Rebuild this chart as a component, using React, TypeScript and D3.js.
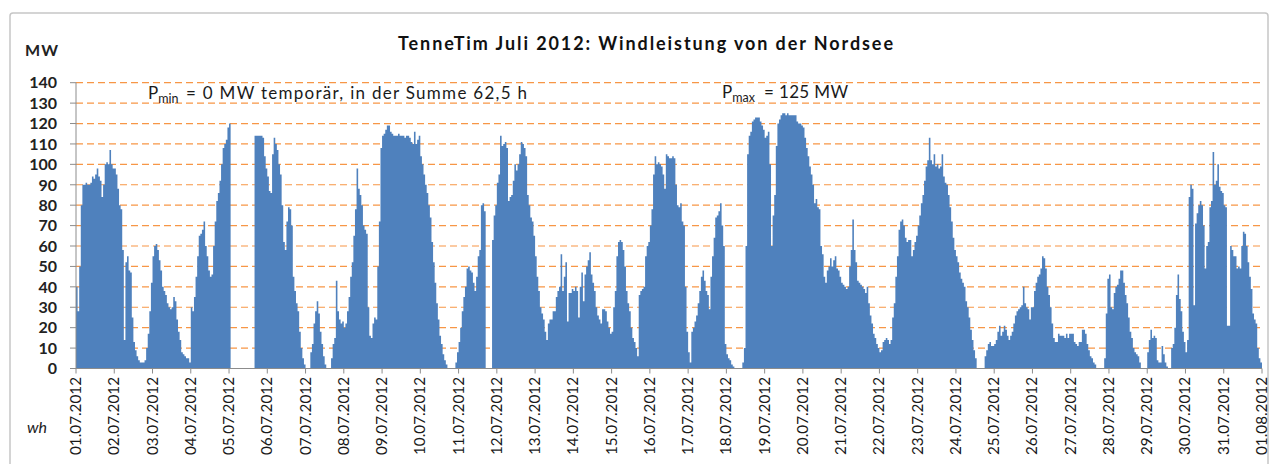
import React from 'react';
import * as d3 from 'd3';

// hourly wind power (MW), one row per day, 01.07.2012 ... 31.07.2012
const hourlyMW: number[][] = [
  [40, 28, 50, 80, 90, 90, 91, 90, 90, 91, 94, 93, 95, 98, 94, 92, 84, 90, 100, 101, 100, 107, 100, 98], // 01.07
  [98, 95, 88, 80, 78, 58, 14, 52, 55, 48, 47, 25, 13, 9, 6, 4, 3, 3, 3, 4, 10, 17, 28, 42], // 02.07
  [55, 60, 61, 58, 53, 48, 40, 38, 36, 32, 30, 29, 30, 35, 33, 24, 18, 14, 8, 7, 6, 5, 5, 3], // 03.07
  [30, 28, 35, 45, 55, 65, 66, 68, 72, 60, 55, 48, 45, 46, 60, 72, 82, 86, 92, 100, 108, 110, 112, 118], // 04.07
  [120, 0, 0, 0, 0, 0, 0, 0, 0, 0, 0, 0, 0, 0, 0, 0, 114, 114, 114, 114, 114, 113, 104, 98], // 05.07
  [94, 87, 86, 105, 113, 110, 107, 100, 95, 80, 62, 58, 72, 79, 78, 70, 45, 38, 32, 28, 18, 10, 5, 2], // 06.07
  [0, 0, 0, 8, 12, 22, 28, 33, 27, 18, 12, 6, 2, 0, 0, 0, 5, 12, 15, 43, 28, 24, 22, 23], // 07.07
  [20, 22, 28, 35, 45, 52, 65, 78, 98, 88, 85, 80, 70, 68, 66, 30, 16, 15, 22, 25, 24, 50, 72, 108], // 08.07
  [114, 115, 117, 119, 119, 116, 115, 114, 114, 114, 115, 114, 114, 114, 113, 114, 114, 113, 111, 110, 116, 110, 112, 114], // 09.07
  [104, 100, 95, 90, 86, 80, 74, 62, 52, 42, 32, 24, 16, 12, 7, 4, 2, 0, 0, 0, 0, 0, 3, 8], // 10.07
  [13, 20, 28, 35, 40, 49, 50, 48, 47, 42, 38, 45, 55, 58, 80, 81, 77, 0, 0, 0, 0, 63, 75, 80], // 11.07
  [91, 95, 114, 109, 110, 111, 108, 82, 84, 85, 92, 100, 97, 100, 105, 111, 110, 108, 104, 85, 80, 74, 72, 65], // 12.07
  [55, 45, 38, 30, 27, 24, 18, 14, 22, 24, 24, 28, 28, 35, 38, 40, 56, 38, 45, 52, 23, 37, 37, 39], // 13.07
  [38, 40, 38, 25, 40, 47, 33, 46, 50, 53, 57, 46, 42, 38, 30, 26, 24, 22, 29, 29, 28, 23, 20, 17], // 14.07
  [18, 30, 38, 55, 62, 63, 62, 58, 50, 38, 32, 28, 20, 15, 13, 10, 6, 36, 38, 39, 40, 55, 60, 62], // 15.07
  [70, 78, 95, 104, 100, 101, 100, 99, 95, 88, 105, 104, 103, 103, 104, 103, 90, 80, 79, 81, 72, 70, 40, 18], // 16.07
  [8, 3, 18, 20, 23, 26, 32, 38, 45, 48, 43, 38, 36, 29, 45, 55, 64, 74, 75, 77, 81, 70, 60, 12], // 17.07
  [7, 5, 4, 2, 1, 0, 0, 0, 0, 0, 3, 10, 60, 105, 114, 116, 121, 122, 123, 123, 123, 121, 119, 117], // 18.07
  [113, 114, 116, 100, 60, 75, 85, 109, 120, 122, 124, 125, 125, 124, 125, 124, 124, 124, 124, 124, 121, 120, 120, 119], // 19.07
  [118, 113, 108, 104, 99, 95, 90, 81, 83, 79, 78, 60, 56, 45, 42, 48, 50, 54, 50, 53, 55, 49, 48, 45], // 20.07
  [42, 41, 40, 39, 40, 50, 58, 73, 58, 52, 43, 42, 41, 40, 39, 37, 40, 32, 26, 22, 17, 15, 12, 10], // 21.07
  [8, 9, 13, 14, 15, 14, 12, 14, 25, 32, 45, 55, 68, 72, 73, 70, 64, 62, 63, 63, 55, 58, 62, 65], // 22.07
  [70, 75, 81, 85, 92, 99, 102, 113, 102, 100, 105, 99, 100, 98, 99, 105, 94, 91, 90, 85, 79, 72, 64, 58], // 23.07
  [55, 52, 47, 44, 42, 40, 33, 30, 25, 19, 14, 9, 5, 0, 0, 0, 0, 0, 6, 9, 12, 13, 11, 11], // 24.07
  [12, 14, 18, 21, 16, 18, 21, 19, 16, 14, 16, 18, 22, 26, 28, 29, 30, 31, 40, 32, 30, 29, 24, 30], // 25.07
  [30, 38, 42, 45, 46, 49, 55, 54, 49, 40, 36, 30, 22, 15, 13, 13, 17, 16, 16, 16, 15, 17, 15, 17], // 26.07
  [17, 17, 13, 12, 11, 13, 13, 19, 19, 17, 12, 9, 6, 5, 3, 2, 0, 0, 0, 0, 0, 5, 27, 44], // 27.07
  [46, 30, 29, 37, 40, 41, 44, 48, 48, 42, 36, 32, 25, 18, 15, 10, 8, 7, 6, 3, 0, 0, 0, 0], // 28.07
  [8, 14, 19, 15, 16, 15, 4, 3, 3, 11, 7, 3, 1, 0, 0, 10, 12, 20, 36, 46, 34, 28, 18, 13], // 29.07
  [8, 14, 84, 90, 88, 31, 71, 76, 80, 82, 80, 70, 49, 60, 62, 79, 82, 106, 90, 92, 100, 89, 87, 86], // 30.07
  [80, 79, 21, 21, 60, 58, 55, 55, 49, 50, 49, 60, 67, 66, 60, 52, 45, 39, 27, 24, 22, 10, 5, 3], // 31.07
];

const dayLabels = [
  '01.07.2012', '02.07.2012', '03.07.2012', '04.07.2012', '05.07.2012', '06.07.2012', '07.07.2012', '08.07.2012',
  '09.07.2012', '10.07.2012', '11.07.2012', '12.07.2012', '13.07.2012', '14.07.2012', '15.07.2012', '16.07.2012',
  '17.07.2012', '18.07.2012', '19.07.2012', '20.07.2012', '21.07.2012', '22.07.2012', '23.07.2012', '24.07.2012',
  '25.07.2012', '26.07.2012', '27.07.2012', '28.07.2012', '29.07.2012', '30.07.2012', '31.07.2012', '01.08.2012',
];

const yTicks = [0, 10, 20, 30, 40, 50, 60, 70, 80, 90, 100, 110, 120, 130, 140];

const FONT = 'Lato, "Open Sans", sans-serif';

export default function App() {
  const series = hourlyMW.flat();
  const hours = series.length;

  const x = d3.scaleLinear().domain([0, hours]).range([76, 1262]);
  const y = d3.scaleLinear().domain([0, 140]).range([368.5, 82.7]);

  // step area: each hour one bar, no gaps
  const pts = [...series, series[series.length - 1]];
  const area = d3.area<number>()
    .x((_, i) => x(i))
    .y0(y(0))
    .y1(d => y(d))
    .curve(d3.curveStepAfter);

  return (
    <svg width={1275} height={464} style={{ position: 'absolute', left: 0, top: 0, background: '#fff' }}
      fontFamily={FONT}>
      <rect x={10} y={13} width={1258} height={470} rx={3} fill="#fff" stroke="#c6c6c6" strokeWidth={1.5} />

      {/* grid lines */}
      {yTicks.filter(t => t > 0).map(t => (
        <line key={t} x1={x(0)} x2={x(hours)} y1={y(t)} y2={y(t)}
          stroke="#F79646" strokeWidth={1.2} strokeDasharray="7,4" />
      ))}

      <path d={area(pts) || ''} fill="#4F81BD" />

      {/* y axis */}
      <line x1={76} x2={76} y1={y(140)} y2={y(0)} stroke="#8c8c8c" />
      {yTicks.map(t => (
        <g key={t}>
          <line x1={70} x2={76} y1={y(t)} y2={y(t)} stroke="#8c8c8c" />
          <text x={57} y={y(t)} dy="0.36em" textAnchor="end" fontSize={16} fontWeight="bold" fill="#222">{t}</text>
        </g>
      ))}

      {/* x axis */}
      <line x1={x(0)} x2={x(hours)} y1={y(0)} y2={y(0)} stroke="#8c8c8c" />
      {dayLabels.map((lab, i) => {
        const xi = x(i * 24);
        return (
          <g key={lab}>
            <line x1={xi} x2={xi} y1={y(0)} y2={y(0) + 5} stroke="#8c8c8c" />
            <text transform={`translate(${xi + 5},377) rotate(-90)`} textAnchor="end" fontSize={15}
              textLength={78} lengthAdjust="spacingAndGlyphs" fill="#1a1a1a">
              {lab}
            </text>
          </g>
        );
      })}

      <text x={25} y={56} fontSize={16} fontWeight="bold" fill="#222" textLength={33}>MW</text>
      <text x={27} y={433} fontSize={16} fontStyle="italic" fill="#222">wh</text>

      <text x={398} y={50} fontSize={18} fontWeight="bold" fill="#111" textLength={495} lengthAdjust="spacing">
        TenneTim Juli 2012:  Windleistung von der Nordsee
      </text>

      <text x={148} y={99} fontSize={17} fill="#1a1a1a">
        P<tspan fontSize={12.5} dy={4}>min</tspan>
        <tspan x={186} dy={-4} textLength={341} lengthAdjust="spacing">= 0 MW temporär, in der Summe 62,5 h</tspan>
      </text>
      <text x={722} y={98} fontSize={17} fill="#1a1a1a">
        P<tspan fontSize={12.5} dy={4}>max</tspan>
        <tspan x={764} dy={-4} textLength={84} lengthAdjust="spacing">= 125 MW</tspan>
      </text>
    </svg>
  );
}
